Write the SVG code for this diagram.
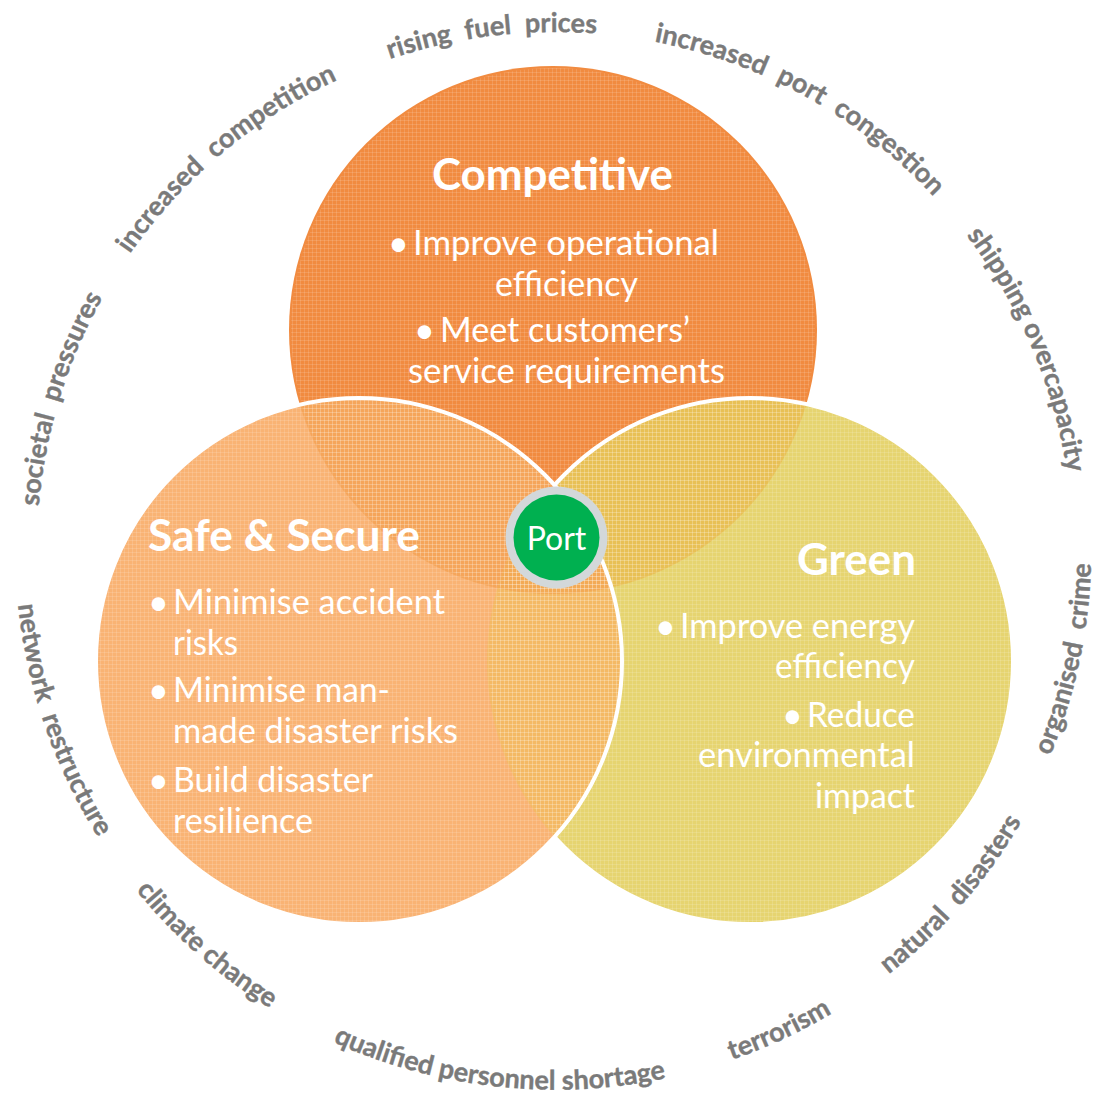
<svg xmlns="http://www.w3.org/2000/svg" width="1097" height="1096" viewBox="0 0 1097 1096">
<style>
.lbl{font-family:Lato,"Liberation Sans",sans-serif;font-weight:700;font-size:27px;fill:#7A7A7A;stroke:#7A7A7A;stroke-width:0.4px}
.ws{word-spacing:7px}
.head{font-family:Lato,"Liberation Sans",sans-serif;font-weight:700;font-size:44px;fill:#FFFFFF}
.body{font-family:Lato,"Liberation Sans",sans-serif;font-weight:400;font-size:34px;fill:#FFFFFF}
.bul{font-family:Lato,"Liberation Sans",sans-serif;font-weight:400;font-size:36px;fill:#FFFFFF}
.port{font-family:Lato,"Liberation Sans",sans-serif;font-weight:400;font-size:32px;fill:#FFFFFF}
</style>
<defs>
<clipPath id="cA"><circle cx="553" cy="330" r="264"/></clipPath>
<clipPath id="cB"><circle cx="359" cy="661" r="263"/></clipPath>
<clipPath id="cC"><circle cx="750" cy="661" r="263"/></clipPath>
<pattern id="tex" width="4" height="4" patternUnits="userSpaceOnUse">
<rect width="4" height="1" fill="#FFFFFF" opacity="0.13"/>
<rect width="1" height="4" fill="#FFFFFF" opacity="0.13"/>
</pattern>
<path id="p1" d="M243.3,136.3 A518,518 0 0 1 757.4,73.2"/>
<path id="p2" d="M546.0,32.1 A518,518 0 0 1 999.0,283.2"/>
<path id="p3" d="M68.2,372.8 A518,518 0 0 1 465.1,39.9"/>
<path id="p4" d="M50.3,666.5 A518,518 0 0 1 201.7,171.1"/>
<path id="p5" d="M866.7,136.3 A518,518 0 0 1 1069.1,613.1"/>
<path id="p6" d="M24.9,447.0 A542,542 0 0 0 200.7,957.5"/>
<path id="p7" d="M43.2,722.3 A542,542 0 0 0 448.3,1079.4"/>
<path id="p8" d="M236.1,985.8 A542,542 0 0 0 772.9,1044.1"/>
<path id="p9" d="M507.9,1087.9 A542,542 0 0 0 997.4,859.7"/>
<path id="p10" d="M730.8,1060.6 A542,542 0 0 0 1085.1,653.0"/>
<path id="p11" d="M953.6,908.9 A536,536 0 0 0 1064.8,384.4"/>
</defs>
<rect width="1097" height="1096" fill="#FFFFFF"/>

<g id="venn">
<circle cx="553" cy="330" r="264" fill="#F18B40"/>
<circle cx="750" cy="661" r="263" fill="#E6D470"/>
<circle cx="553" cy="330" r="264" fill="#E8C055" clip-path="url(#cC)"/>
<circle cx="750" cy="661" r="263" fill="none" stroke="#FFFFFF" stroke-width="4"/>
<circle cx="359" cy="661" r="263" fill="#F9B374"/>
<circle cx="553" cy="330" r="264" fill="#F5A55A" clip-path="url(#cB)"/>
<circle cx="750" cy="661" r="263" fill="#F4B964" clip-path="url(#cB)"/>
<g clip-path="url(#cC)"><circle cx="553" cy="330" r="264" fill="#F3AA55" clip-path="url(#cB)"/></g>
<circle cx="359" cy="661" r="263" fill="none" stroke="#FFFFFF" stroke-width="4"/>
<circle cx="553" cy="330" r="262" fill="url(#tex)"/>
<circle cx="750" cy="661" r="261" fill="url(#tex)"/>
<circle cx="359" cy="661" r="261" fill="url(#tex)"/>
</g>

<g id="competitive">
<text class="head" x="432" y="190" textLength="241" lengthAdjust="spacingAndGlyphs">Competitive</text>
<text class="bul" x="388" y="256">•</text>
<text class="body" x="413" y="255" textLength="306" lengthAdjust="spacingAndGlyphs">Improve operational</text>
<text class="body" x="495" y="296" textLength="143" lengthAdjust="spacingAndGlyphs">efficiency</text>
<text class="bul" x="414" y="343">•</text>
<text class="body" x="440" y="342" textLength="250" lengthAdjust="spacingAndGlyphs">Meet customers’</text>
<text class="body" x="408" y="383" textLength="317" lengthAdjust="spacingAndGlyphs">service requirements</text>
</g>

<g id="safe-secure">
<text class="head" x="148" y="551" textLength="272" lengthAdjust="spacingAndGlyphs">Safe &amp; Secure</text>
<text class="bul" x="148" y="615">•</text>
<text class="body" x="173" y="614" textLength="272" lengthAdjust="spacingAndGlyphs">Minimise accident</text>
<text class="body" x="173" y="655" textLength="65" lengthAdjust="spacingAndGlyphs">risks</text>
<text class="bul" x="148" y="703">•</text>
<text class="body" x="173" y="702" textLength="217" lengthAdjust="spacingAndGlyphs">Minimise man-</text>
<text class="body" x="173" y="743" textLength="285" lengthAdjust="spacingAndGlyphs">made disaster risks</text>
<text class="bul" x="148" y="793">•</text>
<text class="body" x="173" y="792" textLength="200" lengthAdjust="spacingAndGlyphs">Build disaster</text>
<text class="body" x="173" y="833" textLength="140" lengthAdjust="spacingAndGlyphs">resilience</text>
</g>

<g id="green">
<text class="head" x="797" y="575" textLength="119" lengthAdjust="spacingAndGlyphs">Green</text>
<text class="bul" x="655" y="639">•</text>
<text class="body" x="680" y="638" textLength="235" lengthAdjust="spacingAndGlyphs">Improve energy</text>
<text class="body" x="775" y="678" textLength="140" lengthAdjust="spacingAndGlyphs">efficiency</text>
<text class="bul" x="782" y="728">•</text>
<text class="body" x="807" y="727" textLength="108" lengthAdjust="spacingAndGlyphs">Reduce</text>
<text class="body" x="698" y="767" textLength="217" lengthAdjust="spacingAndGlyphs">environmental</text>
<text class="body" x="815" y="808" textLength="100" lengthAdjust="spacingAndGlyphs">impact</text>
</g>

<g id="port">
<circle cx="556.5" cy="537.5" r="51" fill="#D3D8DA"/>
<circle cx="556.5" cy="537.5" r="43" fill="#00B050"/>
<text class="port" x="556.5" y="550" text-anchor="middle">Port</text>
</g>

<g id="pressures">
<text class="lbl ws" text-anchor="middle"><textPath href="#p1" startOffset="50%">rising fuel prices</textPath></text>
<text class="lbl ws" text-anchor="middle"><textPath href="#p2" startOffset="50%">increased port congestion</textPath></text>
<text class="lbl ws" text-anchor="middle"><textPath href="#p3" startOffset="50%">increased competition</textPath></text>
<text class="lbl ws" text-anchor="middle"><textPath href="#p4" startOffset="50%">societal pressures</textPath></text>
<text class="lbl" text-anchor="middle"><textPath href="#p5" startOffset="50%">shipping overcapacity</textPath></text>
<text class="lbl ws" text-anchor="middle"><textPath href="#p6" startOffset="50%">network restructure</textPath></text>
<text class="lbl" text-anchor="middle"><textPath href="#p7" startOffset="50%">climate change</textPath></text>
<text class="lbl" text-anchor="middle"><textPath href="#p8" startOffset="50%">qualified personnel shortage</textPath></text>
<text class="lbl" text-anchor="middle"><textPath href="#p9" startOffset="50%">terrorism</textPath></text>
<text class="lbl ws" text-anchor="middle"><textPath href="#p10" startOffset="50%">natural disasters</textPath></text>
<text class="lbl ws" text-anchor="middle"><textPath href="#p11" startOffset="50%">organised crime</textPath></text>
</g>
</svg>
